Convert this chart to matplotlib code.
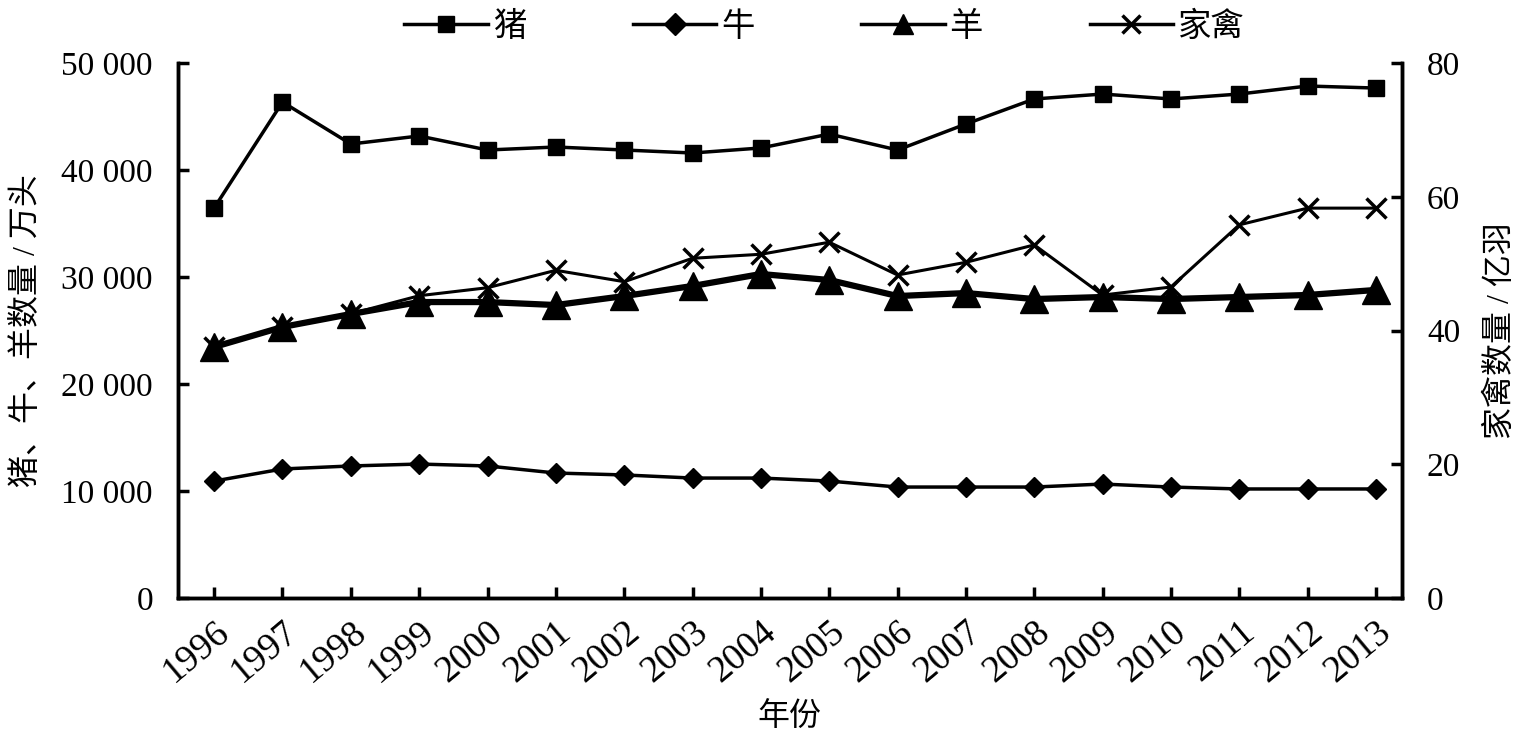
import matplotlib.pyplot as plt
import numpy as np
from matplotlib.lines import Line2D

plt.rcParams['font.family'] = ['Liberation Serif', 'Noto Sans CJK SC', 'DejaVu Sans']

years = [str(y) for y in range(1996, 2014)]
pig = [36450, 46350, 42430, 43180, 41870, 42150, 41870, 41590, 42060, 43360,
       41870, 44300, 46640, 47100, 46640, 47100, 47850, 47660]
cattle = [10930, 12060, 12340, 12520, 12340, 11680, 11500, 11210, 11210, 10930,
          10370, 10370, 10370, 10650, 10370, 10190, 10190, 10190]
sheep = [23460, 25330, 26540, 27660, 27660, 27380, 28220, 29160, 30280, 29720,
         28220, 28500, 27940, 28130, 27940, 28130, 28320, 28790]
poultry = [37.5, 40.5, 42.5, 45.2, 46.4, 49.0, 47.3, 50.8, 51.4, 53.2,
           48.3, 50.2, 52.8, 45.3, 46.5, 55.8, 58.3, 58.3]
names = ['猪', '牛', '羊', '家禽']

x = np.arange(len(years))

fig = plt.figure(figsize=(15.13, 7.37), dpi=100)
ax = fig.add_axes([0.1176, 0.1886, 0.8090, 0.7259])
ax2 = ax.twinx()

ax.plot(x, pig, color='black', lw=2.5, marker='s', ms=11)
ax.plot(x, cattle, color='black', lw=2.5, marker='D', ms=10)
ax.plot(x, sheep, color='black', lw=4.5, marker='^', ms=20)
ax2.plot(x, poultry, color='black', lw=2.2, marker='x', ms=14, mew=2.5)

ax.set_xlim(-0.53, 17.38)
ax.set_ylim(0, 50000)
ax2.set_ylim(0, 80)
ax.set_yticks(range(0, 50001, 10000))
ax.set_yticklabels(['0', '10 000', '20 000', '30 000', '40 000', '50 000'])
ax2.set_yticks(range(0, 81, 20))
ax.set_xticks(x)
ax.set_xticklabels(years, rotation=40, ha='right', va='top', rotation_mode='anchor')

for a in (ax, ax2):
    a.spines['top'].set_visible(False)
    for s in a.spines.values():
        s.set_linewidth(2.5)
    a.tick_params(direction='in', width=2.5, length=8, labelsize=24)
ax.tick_params(axis='x', labelsize=27, pad=12)
ax.tick_params(axis='y', pad=18)
ax2.tick_params(axis='y', pad=18)

ax.set_ylabel('猪、牛、羊数量 / 万头', fontsize=23, labelpad=14)
ax2.set_ylabel('家禽数量 / 亿羽', fontsize=23, labelpad=18)
ax.set_xlabel('年份', fontsize=23, labelpad=10)

# legend: same thin line for every entry
handles = [Line2D([], [], color='black', lw=2.5, marker='s', ms=11),
           Line2D([], [], color='black', lw=2.5, marker='D', ms=11),
           Line2D([], [], color='black', lw=2.5, marker='^', ms=15),
           Line2D([], [], color='black', lw=2.5, marker='x', ms=13, mew=2.5)]
fig.legend(handles, names, loc='upper center', bbox_to_anchor=(0.545, 1.025),
           ncol=4, frameon=False, fontsize=24, handlelength=2.5, columnspacing=3.2,
           handletextpad=0.15)

fig.savefig('out.png', dpi=100)
